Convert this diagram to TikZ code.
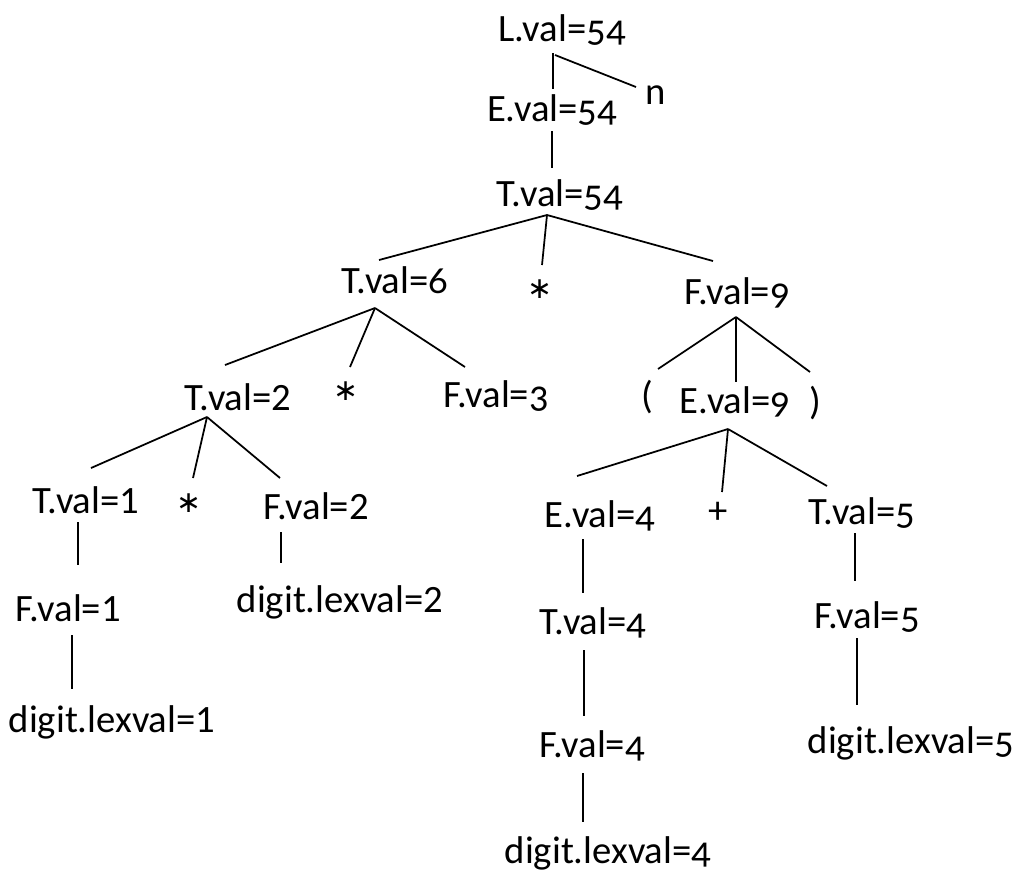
\documentclass[tikz,border=0pt]{standalone}
\usepackage{fontspec}
\setmainfont[Numbers=OldStyle]{Carlito}
\newfontfamily\symfont{DejaVu Sans}
\newcommand{\lnum}[1]{{\addfontfeatures{Numbers=Lining}#1}}
\newcommand{\mystar}{{\symfont\fontsize{8.5}{10}\selectfont ∗}}
\begin{document}
\begin{tikzpicture}[x=0.01cm,y=-0.01cm,
  lbl/.style={inner sep=0pt,font=\fontsize{11}{13}\selectfont},
  edge/.style={line width=0.5pt,black}]
\useasboundingbox (0,0) rectangle (1016,872);
% nodes
\node[lbl] (L) at (562,30) {L.val=54};
\node[lbl] (n) at (656,95) {n};
\node[lbl] (E1) at (552,110) {E.val=54};
\node[lbl] (T1) at (560,195) {T.val=54};
\node[lbl] (T2) at (395,280) {T.val=6};
\node[lbl] (s1) at (540,289) {\mystar};
\node[lbl] (F1) at (737,293) {F.val=9};
\node[lbl] (T3) at (238,397) {T.val=\lnum{2}};
\node[lbl] (s2) at (346,391) {\mystar};
\node[lbl] (F2) at (496,396) {F.val=3};
\node[lbl] (lp) at (647,397) {(};
\node[lbl] (E2) at (735,402) {E.val=9};
\node[lbl] (rp) at (815,403) {)};
\node[lbl] (T4) at (86,500) {T.val=\lnum{1}};
\node[lbl] (s3) at (189,503) {\mystar};
\node[lbl] (F3) at (316,506) {F.val=\lnum{2}};
\node[lbl] (F4) at (68,608) {F.val=\lnum{1}};
\node[lbl] (d2) at (340,602) {digit.lexval=\lnum{2}};
\node[lbl] (d1) at (112,722) {digit.lexval=\lnum{1}};
\node[lbl] (E3) at (600,516) {E.val=4};
\node[lbl] (pl) at (718,513) {+};
\node[lbl] (T5) at (862,513) {T.val=5};
\node[lbl] (T6) at (593,623) {T.val=4};
\node[lbl] (F5) at (867,617) {F.val=5};
\node[lbl] (F6) at (592,746) {F.val=4};
\node[lbl] (d5) at (911,743) {digit.lexval=5};
\node[lbl] (d4) at (608,853) {digit.lexval=4};
% junction coordinates
\coordinate (aL) at (553,53);   \coordinate (aLd) at (555,55);
\coordinate (eE1) at (553,89);  \coordinate (en) at (636,87);
\coordinate (bE1) at (552,131); \coordinate (eT1) at (552,168);
\coordinate (aT1) at (547,215);
\coordinate (eT2) at (379,260); \coordinate (es1) at (542,265); \coordinate (eF1) at (713,261);
\coordinate (aT2) at (375,308);
\coordinate (eT3) at (225,365); \coordinate (es2) at (350,367); \coordinate (eF2) at (465,367);
\coordinate (aF1) at (736,317);
\coordinate (elp) at (658,369); \coordinate (eE2) at (736,382); \coordinate (erp) at (810,372);
\coordinate (aE2) at (728,429);
\coordinate (eE3) at (577,476); \coordinate (epl) at (722,492); \coordinate (eT5) at (827,486);
\coordinate (aT3) at (207,417);
\coordinate (eT4) at (91,468); \coordinate (es3) at (193,478); \coordinate (eF3) at (280,478);
\coordinate (bT4) at (78,522);  \coordinate (eF4) at (78,565);
\coordinate (bF4) at (72,635);  \coordinate (ed1) at (72,689);
\coordinate (bF3) at (281,532); \coordinate (ed2) at (281,563);
\coordinate (bE3) at (583,539); \coordinate (eT6) at (583,593);
\coordinate (bT6) at (584,650); \coordinate (eF6) at (584,716);
\coordinate (bF6) at (583,773); \coordinate (ed4) at (583,822);
\coordinate (bT5) at (855,533); \coordinate (eF5) at (855,581);
\coordinate (bF5) at (857,638); \coordinate (ed5) at (857,705);
% edges
\draw[edge] (aL) -- (eE1);
\draw[edge] (aLd) -- (en);
\draw[edge] (bE1) -- (eT1);
\draw[edge] (aT1) -- (eT2);
\draw[edge] (aT1) -- (es1);
\draw[edge] (aT1) -- (eF1);
\draw[edge] (aT2) -- (eT3);
\draw[edge] (aT2) -- (es2);
\draw[edge] (aT2) -- (eF2);
\draw[edge] (aF1) -- (elp);
\draw[edge] (aF1) -- (eE2);
\draw[edge] (aF1) -- (erp);
\draw[edge] (aE2) -- (eE3);
\draw[edge] (aE2) -- (epl);
\draw[edge] (aE2) -- (eT5);
\draw[edge] (aT3) -- (eT4);
\draw[edge] (aT3) -- (es3);
\draw[edge] (aT3) -- (eF3);
\draw[edge] (bT4) -- (eF4);
\draw[edge] (bF4) -- (ed1);
\draw[edge] (bF3) -- (ed2);
\draw[edge] (bE3) -- (eT6);
\draw[edge] (bT6) -- (eF6);
\draw[edge] (bF6) -- (ed4);
\draw[edge] (bT5) -- (eF5);
\draw[edge] (bF5) -- (ed5);
\end{tikzpicture}
\end{document}
